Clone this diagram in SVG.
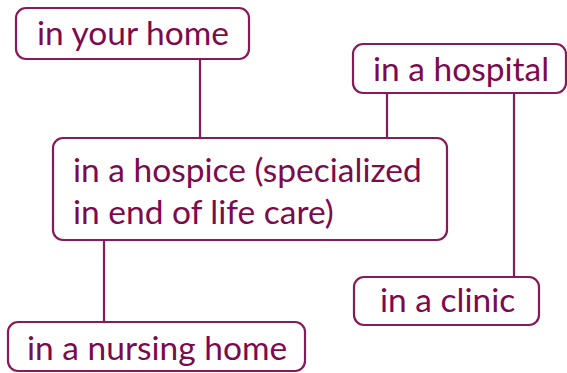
<svg xmlns="http://www.w3.org/2000/svg" width="567" height="373" viewBox="0 0 567 373">
  <style>
    .box { fill: #ffffff; stroke: #861a5a; stroke-width: 2.2; }
    .link { stroke: #861a5a; stroke-width: 2.2; fill: none; }
    .label { font-family: "Lato", "Open Sans", sans-serif; font-size: 33.5px; fill: #7d0a4f; }
  </style>
  <rect width="567" height="373" fill="#ffffff"/>
  <g id="connectors">
    <line class="link" x1="200" y1="59" x2="200" y2="138"/>
    <line class="link" x1="387" y1="93" x2="387" y2="138"/>
    <line class="link" x1="514" y1="93" x2="514" y2="277"/>
    <line class="link" x1="104" y1="240" x2="104" y2="322"/>
  </g>
  <g id="home">
    <rect class="box" x="16" y="8" width="233" height="51" rx="10"/>
    <text class="label" x="37" y="45">in your home</text>
  </g>
  <g id="hospital">
    <rect class="box" x="353" y="44" width="213" height="49" rx="10"/>
    <text class="label" x="373" y="81">in a hospital</text>
  </g>
  <g id="hospice">
    <rect class="box" x="53" y="138" width="394" height="102" rx="10"/>
    <text class="label" x="73" y="182">in a hospice (specialized</text>
    <text class="label" x="73" y="224">in end of life care)</text>
  </g>
  <g id="clinic">
    <rect class="box" x="354" y="277" width="185" height="48" rx="10"/>
    <text class="label" x="380" y="312">in a clinic</text>
  </g>
  <g id="nursing">
    <rect class="box" x="8" y="322" width="297" height="49" rx="10"/>
    <text class="label" x="27" y="360">in a nursing home</text>
  </g>
</svg>
